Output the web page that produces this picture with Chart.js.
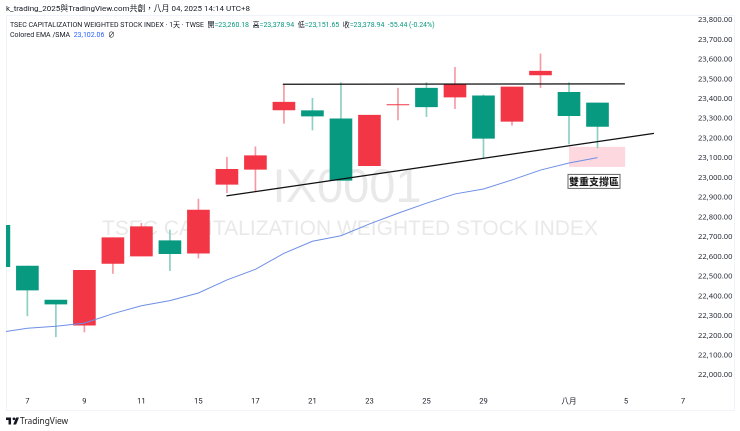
<!DOCTYPE html>
<html>
<head>
<meta charset="utf-8">
<script src="https://cdn.jsdelivr.net/npm/chart.js@4/dist/chart.umd.min.js"></script>
<style>
    html, body { margin: 0; padding: 0; background: #fff; }
    #wrap { position: relative; width: 740px; height: 431px; overflow: hidden; font-family: Roboto, 'Noto Sans CJK TC', sans-serif; color: #131722; }
    #frame { position: absolute; left: 6px; top: 15px; width: 727px; height: 394px; border: 1px solid #f0f3fa; box-sizing: content-box; }
    canvas { position: absolute; left: 0; top: 0; }
    .txt { position: absolute; white-space: nowrap; font-size: 7px; line-height: 10px; }
    .up { color: #089981; }
    .ema { color: #2962ff; }
    #logo { position: absolute; left: 6px; top: 417px; }
    #brand { position: absolute; left: 20px; top: 415px; font-size: 8.4px; line-height: 12px; color: #222; font-family: 'Noto Sans', sans-serif; }
</style>
</head>
<body>
<div id="wrap">
    <div id="frame"></div>
    <canvas id="chart" width="740" height="431"></canvas>
    <div class="txt" style="left:6px;top:4px;font-size:8px">k_trading_2025與TradingView.com共創，八月 04, 2025 14:14 UTC+8</div>
    <div class="txt" style="left:10px;top:20px">TSEC CAPITALIZATION WEIGHTED STOCK INDEX · 1天 · TWSE &nbsp;開<span class="up">=23,260.18</span> &nbsp;高<span class="up">=23,378.94</span> &nbsp;低<span class="up">=23,151.65</span> &nbsp;收<span class="up">=23,378.94 &nbsp;-55.44 (-0.24%)</span></div>
    <div class="txt" style="left:10px;top:30px">Colored EMA /SMA &nbsp;<span class="ema">23,102.06</span> &nbsp;∅</div>
    <svg id="logo" width="13" height="8" viewBox="0 0 36 20"><path d="M0 0h14v20H7V7H0z M22 0a4 4 0 1 1 0 8a4 4 0 1 1 0-8z M28 0h8l-8 20h-8z" fill="#131722"/></svg>
    <div id="brand">TradingView</div>
</div>
<script>
// bar index -1 is the candle cut off by the left edge
const barIndex = [-1, 0, 1, 2, 3, 4, 5, 6, 7, 8, 9, 10, 11, 12, 13, 14, 15, 16, 17, 18, 19, 20];
const opens  = [22549, 22431, 22360, 22531, 22696, 22752, 22615, 22836, 23043, 23112, 23383, 23313, 22987, 23317, 23371, 23360, 23475, 23200, 23460, 23540, 23315, 23260.18];
const highs  = [22759, 22552, 22380, 22531, 22696, 22769, 22735, 22892, 23104, 23157, 23470, 23403, 23482, 23317, 23454, 23482, 23560, 23420, 23460, 23628, 23482, 23378.94];
const lows   = [22549, 22300, 22194, 22218, 22515, 22603, 22529, 22593, 22924, 22934, 23276, 23242, 22987, 23061, 23293, 23310, 23350, 23102, 23266, 23457, 23171, 23151.65];
const closes = [22759, 22552, 22380, 22253, 22566, 22603, 22681, 22618, 22967, 23043, 23344, 23340, 23299, 23061, 23369, 23454, 23409, 23415, 23286, 23521, 23433, 23378.94];
const emaValues = [22215, 22237, 22247, 22263, 22311, 22351, 22377, 22416, 22482, 22536, 22617, 22678, 22706, 22766, 22820, 22871, 22918, 22943, 22989, 23039, 23075, 23102.06];

const dayTicks = [0, 2, 4, 6, 8, 10, 12, 14, 16, 19, 21, 23];
const dayLabels = ['7', '9', '11', '15', '17', '21', '23', '25', '29', '八月', '5', '7'];
const priceTicks = [22000, 22100, 22200, 22300, 22400, 22500, 22600, 22700, 22800, 22900, 23000, 23100, 23200, 23300, 23400, 23500, 23600, 23700, 23800];

// hand drawn annotations on the original chart
const resistanceX = [8.96, 20.96];
const resistanceY = [23474, 23476];
const supportX = [6.98, 21.98];
const supportY = [22908, 23225];
const zoneX = [19.0, 20.97];
const zoneY = [23055, 23157];
const zoneLabel = '雙重支撐區';
const watermarkSymbol = 'IX0001';
const watermarkName = 'TSEC CAPITALIZATION WEIGHTED STOCK INDEX';

const GREEN = '#089981';
const RED = '#f23645';
const GREEN_WICK = '#8ccfc3';
const RED_WICK = '#f59aa4';

const isUp = i => closes[i] >= opens[i];

const watermark = {
    id: 'watermark',
    beforeDatasetsDraw(chart) {
        const { ctx } = chart;
        ctx.save();
        ctx.textAlign = 'center';
        ctx.textBaseline = 'middle';
        ctx.fillStyle = '#e9e9ea';
        ctx.font = "47px 'Liberation Sans', sans-serif";
        ctx.fillText(watermarkSymbol, 347, 189);
        ctx.font = "21px 'Liberation Sans', sans-serif";
        ctx.fillText(watermarkName, 350, 229);
        ctx.restore();
    }
};

const supportZone = {
    id: 'supportZone',
    beforeDatasetsDraw(chart) {
        const { ctx, scales: { x, y } } = chart;
        const left = x.getPixelForValue(zoneX[0]);
        const right = x.getPixelForValue(zoneX[1]);
        const top = y.getPixelForValue(zoneY[1]);
        const bottom = y.getPixelForValue(zoneY[0]);
        ctx.save();
        ctx.fillStyle = '#fdd8de';
        ctx.fillRect(left, top, right - left, bottom - top);
        ctx.restore();
    },
    afterDatasetsDraw(chart) {
        const { ctx, scales: { x, y } } = chart;
        const cx = x.getPixelForValue(zoneX[0]) + 25;
        const cy = y.getPixelForValue(zoneY[0]) + 14.5;
        ctx.save();
        ctx.fillStyle = '#fff';
        ctx.strokeStyle = '#666';
        ctx.lineWidth = 1;
        ctx.fillRect(cx - 26, cy - 7, 52, 14);
        ctx.strokeRect(cx - 26, cy - 7, 52, 14);
        ctx.fillStyle = '#111';
        ctx.font = "bold 10px 'Noto Sans CJK TC', sans-serif";
        ctx.textAlign = 'center';
        ctx.textBaseline = 'middle';
        ctx.fillText(zoneLabel, cx, cy + 0.5);
        ctx.restore();
    }
};

new Chart(document.getElementById('chart'), {
    type: 'bar',
    data: {
        datasets: [
            {
                label: 'wick',
                order: 5,
                grouped: false,
                barThickness: 1,
                data: barIndex.map((b, i) => ({ x: b, y: [lows[i], highs[i]] })),
                backgroundColor: barIndex.map((b, i) => isUp(i) ? GREEN_WICK : RED_WICK)
            },
            {
                label: 'body',
                order: 4,
                grouped: false,
                barThickness: 22,
                data: barIndex.map((b, i) => ({ x: b, y: [opens[i], closes[i]] })),
                backgroundColor: barIndex.map((b, i) => isUp(i) ? GREEN : RED)
            },
            {
                type: 'line',
                label: 'Colored EMA /SMA',
                order: 3,
                data: barIndex.map((b, i) => ({ x: b, y: emaValues[i] })),
                borderColor: '#6f8fe6',
                borderWidth: 1,
                pointRadius: 0,
                tension: 0
            },
            {
                type: 'line',
                label: 'resistance',
                order: 2,
                data: resistanceX.map((v, i) => ({ x: v, y: resistanceY[i] })),
                borderColor: '#111',
                borderWidth: 1.3,
                pointRadius: 0
            },
            {
                type: 'line',
                label: 'support',
                order: 1,
                data: supportX.map((v, i) => ({ x: v, y: supportY[i] })),
                borderColor: '#111',
                borderWidth: 1.3,
                pointRadius: 0
            }
        ]
    },
    options: {
        responsive: false,
        animation: false,
        devicePixelRatio: 2,
        layout: { padding: { left: 6, top: 15, right: 5, bottom: 21 } },
        plugins: {
            legend: { display: false },
            tooltip: { enabled: false }
        },
        scales: {
            x: {
                type: 'linear',
                offset: false,
                min: -0.75,
                max: 23.42,
                grid: { display: false, drawTicks: false },
                border: { display: false },
                afterFit(scale) { scale.height = 18; },
                afterBuildTicks(scale) { scale.ticks = dayTicks.map(v => ({ value: v })); },
                ticks: {
                    autoSkip: false,
                    maxRotation: 0,
                    padding: 5,
                    color: '#131722',
                    font: { family: "Roboto, 'Noto Sans CJK TC', sans-serif", size: 7.6 },
                    callback: v => dayLabels[dayTicks.indexOf(v)]
                }
            },
            y: {
                position: 'right',
                min: 21914,
                max: 23825,
                grid: { display: false, drawTicks: false },
                border: { display: false },
                afterFit(scale) { scale.width = 40; },
                afterBuildTicks(scale) { scale.ticks = priceTicks.map(v => ({ value: v })); },
                ticks: {
                    autoSkip: false,
                    padding: 3,
                    color: '#2a2e39',
                    font: { family: "'Noto Sans', sans-serif", size: 7.6 },
                    callback: v => v.toLocaleString('en-US', { minimumFractionDigits: 2 })
                }
            }
        }
    },
    plugins: [watermark, supportZone]
});
</script>
</body>
</html>
